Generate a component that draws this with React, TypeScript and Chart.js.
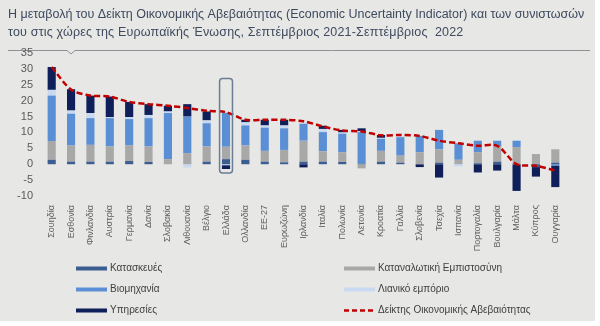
import React, { useEffect, useRef } from 'react';
import { Chart, registerables } from 'chart.js';
Chart.register(...registerables);

const categories = [
  'Σουηδία', 'Εσθονία', 'Φινλανδία', 'Αυστρία', 'Γερμανία', 'Δανία', 'Σλοβακία', 'Λιθουανία', 'Βέλγιο',
  'Ελλάδα', 'Ολλανδία', 'ΕΕ-27', 'Ευρωζώνη', 'Ιρλανδία', 'Ιταλία', 'Πολωνία', 'Λετονία', 'Κροατία',
  'Γαλλία', 'Σλοβενία', 'Τσεχία', 'Ισπανία', 'Πορτογαλία', 'Βουλγαρία', 'Μάλτα', 'Κύπρος', 'Ουγγαρία',
];

const construction = [1.4, 0.8, 0.8, 0.8, 1.0, 0.7, 0.0, 0.0, 0.8, 1.6, 1.4, 0.8, 0.6, 0.8, 0.8, 0.7, 0.2, 0.8, 0.5, 0.0, 0.5, 0.0, 0.3, 0.8, 0.0, -0.9, 0.5];
const consumer = [5.9, 5.1, 5.3, 4.8, 4.9, 4.9, 1.6, 3.5, 4.8, 3.9, 4.5, 3.4, 3.9, 6.6, 3.3, 3.1, -1.3, 3.4, 2.2, 3.8, 4.2, 1.4, 3.5, 4.8, 5.4, 3.2, 4.2];
const industry = [14.3, 10.0, 8.4, 8.9, 8.3, 8.9, 14.5, 11.5, 7.3, 10.7, 6.3, 7.3, 6.8, 5.3, 6.0, 5.8, 9.9, 3.8, 5.8, 5.1, 6.1, 5.2, 3.6, 1.8, 2.0, 0.0, -0.4];
const retail = [1.8, 1.0, 1.6, 0.3, 0.6, 1.0, 0.5, -1.0, 0.9, -0.3, 1.0, 0.7, 0.9, 0.4, 1.0, 0.4, 0.3, 0.3, 0.3, 0.0, 0.0, -0.7, 0.0, 0.0, 0.0, 0.0, 0.0];
const services = [7.2, 6.7, 5.5, 6.5, 4.8, 3.4, 1.8, 3.9, 2.8, -1.2, 0.8, 1.8, 1.8, -1.0, 1.0, 0.8, 0.9, 0.9, 0.0, -0.9, -4.2, 0.0, -2.6, -2.0, -8.4, -3.0, -6.8];
const indicator = [30.6, 23.5, 21.6, 21.3, 19.6, 18.9, 18.4, 17.7, 16.8, 16.4, 14.0, 14.0, 14.0, 13.5, 11.9, 10.6, 10.3, 9.1, 9.2, 8.9, 7.4, 6.6, 5.8, 5.8, 0.0, -0.5, -2.0];

const seriesNames = [
  'Κατασκευές',
  'Καταναλωτική Εμπιστοσύνη',
  'Βιομηχανία',
  'Λιανικό εμπόριο',
  'Υπηρεσίες',
  'Δείκτης Οικονομικής Αβεβαιότητας',
];

const titleLines = [
  'Η μεταβολή του Δείκτη Οικονομικής Αβεβαιότητας (Economic Uncertainty Indicator) και των συνιστωσών',
  'του στις χώρες της Ευρωπαϊκής Ένωσης, Σεπτέμβριος 2021-Σεπτέμβριος  2022',
];

const yMin = -10;
const yMax = 35;
const yStep = 5;

const highlightIndex = 9;
const highlightTop = 27;
const highlightBottom = -2.8;

const COLORS = {
  construction: '#3c5d90',
  consumer: '#a8a8a8',
  industry: '#5a8fd6',
  retail: '#c8d9f1',
  services: '#0e1f5a',
  line: '#c00000',
};

const FONT = '"Liberation Sans", Arial, sans-serif';

const backgroundPlugin = {
  id: 'bgTitle',
  beforeDraw(chart: any) {
    const ctx = chart.ctx;
    ctx.save();
    ctx.fillStyle = '#ffffff';
    ctx.fillRect(0, 0, chart.width, chart.height);
    ctx.fillStyle = '#e7e7e5';
    ctx.fillRect(0, 0, 595, 321);
    ctx.fillStyle = '#3e4a5e';
    ctx.font = `12.5px ${FONT}`;
    ctx.textBaseline = 'middle';
    ctx.textAlign = 'left';
    ctx.fillText(titleLines[0], 8, 15);
    if ('letterSpacing' in ctx) (ctx as any).letterSpacing = '0.18px';
    ctx.fillText(titleLines[1], 8, 33);
    if ('letterSpacing' in ctx) (ctx as any).letterSpacing = '0px';
    ctx.strokeStyle = '#8d9299';
    ctx.lineWidth = 1;
    ctx.beginPath();
    ctx.moveTo(8, 50.5);
    ctx.lineTo(67, 50.5);
    ctx.lineTo(71, 54);
    ctx.lineTo(75, 50.5);
    ctx.lineTo(590, 50.5);
    ctx.stroke();
    ctx.restore();
  },
};

const highlightPlugin = {
  id: 'highlight',
  afterDatasetsDraw(chart: any) {
    const ctx = chart.ctx;
    const xs = chart.scales.x;
    const ys = chart.scales.y;
    const cx = xs.getPixelForValue(highlightIndex);
    const half = xs.width / categories.length / 3;
    const top = ys.getPixelForValue(highlightTop);
    const bottom = ys.getPixelForValue(highlightBottom);
    ctx.save();
    ctx.strokeStyle = '#6c7d96';
    ctx.lineWidth = 1.5;
    ctx.beginPath();
    if (ctx.roundRect) ctx.roundRect(cx - half, top, half * 2, bottom - top, 3);
    else ctx.rect(cx - half, top, half * 2, bottom - top);
    ctx.stroke();
    ctx.restore();
  },
};

const legendPlugin = {
  id: 'customLegend',
  afterDraw(chart: any) {
    const ctx = chart.ctx;
    const ds = chart.data.datasets;
    const byLabel = (l: string) => ds.find((d: any) => d.label === l);
    const cols = [76, 344];
    const rows = [268.5, 289.5, 310.5];
    const layout = [
      [seriesNames[0], 0, 0],
      [seriesNames[1], 1, 0],
      [seriesNames[2], 0, 1],
      [seriesNames[3], 1, 1],
      [seriesNames[4], 0, 2],
      [seriesNames[5], 1, 2],
    ] as [string, number, number][];
    ctx.save();
    ctx.font = `10px ${FONT}`;
    ctx.textBaseline = 'middle';
    ctx.textAlign = 'left';
    layout.forEach(([label, c, r]) => {
      const d = byLabel(label);
      const x = cols[c];
      const y = rows[r];
      if (d.type === 'line') {
        ctx.strokeStyle = d.borderColor;
        ctx.lineWidth = 2.5;
        ctx.setLineDash([5, 3]);
        ctx.beginPath();
        ctx.moveTo(x, y);
        ctx.lineTo(x + 31, y);
        ctx.stroke();
        ctx.setLineDash([]);
      } else {
        ctx.fillStyle = d.backgroundColor;
        ctx.fillRect(x, y - 2, 31, 4);
      }
      ctx.fillStyle = '#404040';
      ctx.fillText(label, x + 34, y);
    });
    ctx.restore();
  },
};

export default function App() {
  const ref = useRef<HTMLCanvasElement>(null);
  useEffect(() => {
    if (!ref.current) return;
    const chart = new Chart(ref.current, {
      type: 'bar',
      data: {
        labels: categories,
        datasets: [
          {
            type: 'line',
            label: seriesNames[5],
            data: indicator,
            borderColor: COLORS.line,
            backgroundColor: COLORS.line,
            borderWidth: 2.5,
            borderDash: [6, 3],
            pointRadius: 0,
            tension: 0.3,
            fill: false,
            order: 0,
            stack: 'idx',
          } as any,
          { label: seriesNames[0], data: construction, backgroundColor: COLORS.construction, order: 1, stack: 's' },
          { label: seriesNames[1], data: consumer, backgroundColor: COLORS.consumer, order: 1, stack: 's' },
          { label: seriesNames[2], data: industry, backgroundColor: COLORS.industry, order: 1, stack: 's' },
          { label: seriesNames[3], data: retail, backgroundColor: COLORS.retail, order: 1, stack: 's' },
          { label: seriesNames[4], data: services, backgroundColor: COLORS.services, order: 1, stack: 's' },
        ],
      },
      options: {
        responsive: false,
        animation: false,
        devicePixelRatio: 1,
        layout: { padding: { top: 53, left: 0, right: 35, bottom: 70 } },
        datasets: { bar: { categoryPercentage: 1, barPercentage: 0.42 } },
        plugins: {
          legend: { display: false },
          title: { display: false },
          tooltip: { enabled: false },
        },
        scales: {
          x: {
            stacked: true,
            grid: { display: false, drawTicks: false },
            border: { display: false },
            ticks: {
              autoSkip: false,
              minRotation: 90,
              maxRotation: 90,
              padding: 9,
              color: '#5f5f5f',
              font: { family: FONT, size: 9 },
            },
            afterFit: (s: any) => { s.height = 60; },
          },
          y: {
            stacked: true,
            min: yMin,
            max: yMax,
            grid: { display: false, drawTicks: false },
            border: { display: false },
            ticks: {
              stepSize: yStep,
              autoSkip: false,
              padding: 9,
              color: '#595959',
              font: { family: FONT, size: 11 },
            },
            afterFit: (s: any) => { s.width = 42; },
          },
        },
      } as any,
      plugins: [backgroundPlugin, highlightPlugin, legendPlugin],
    });
    return () => chart.destroy();
  }, []);
  return (
    <div style={{ position: 'fixed', left: 0, top: 0, width: 600, height: 326, background: '#fff' }}>
      <canvas ref={ref} width={600} height={326} style={{ display: 'block' }} />
    </div>
  );
}
